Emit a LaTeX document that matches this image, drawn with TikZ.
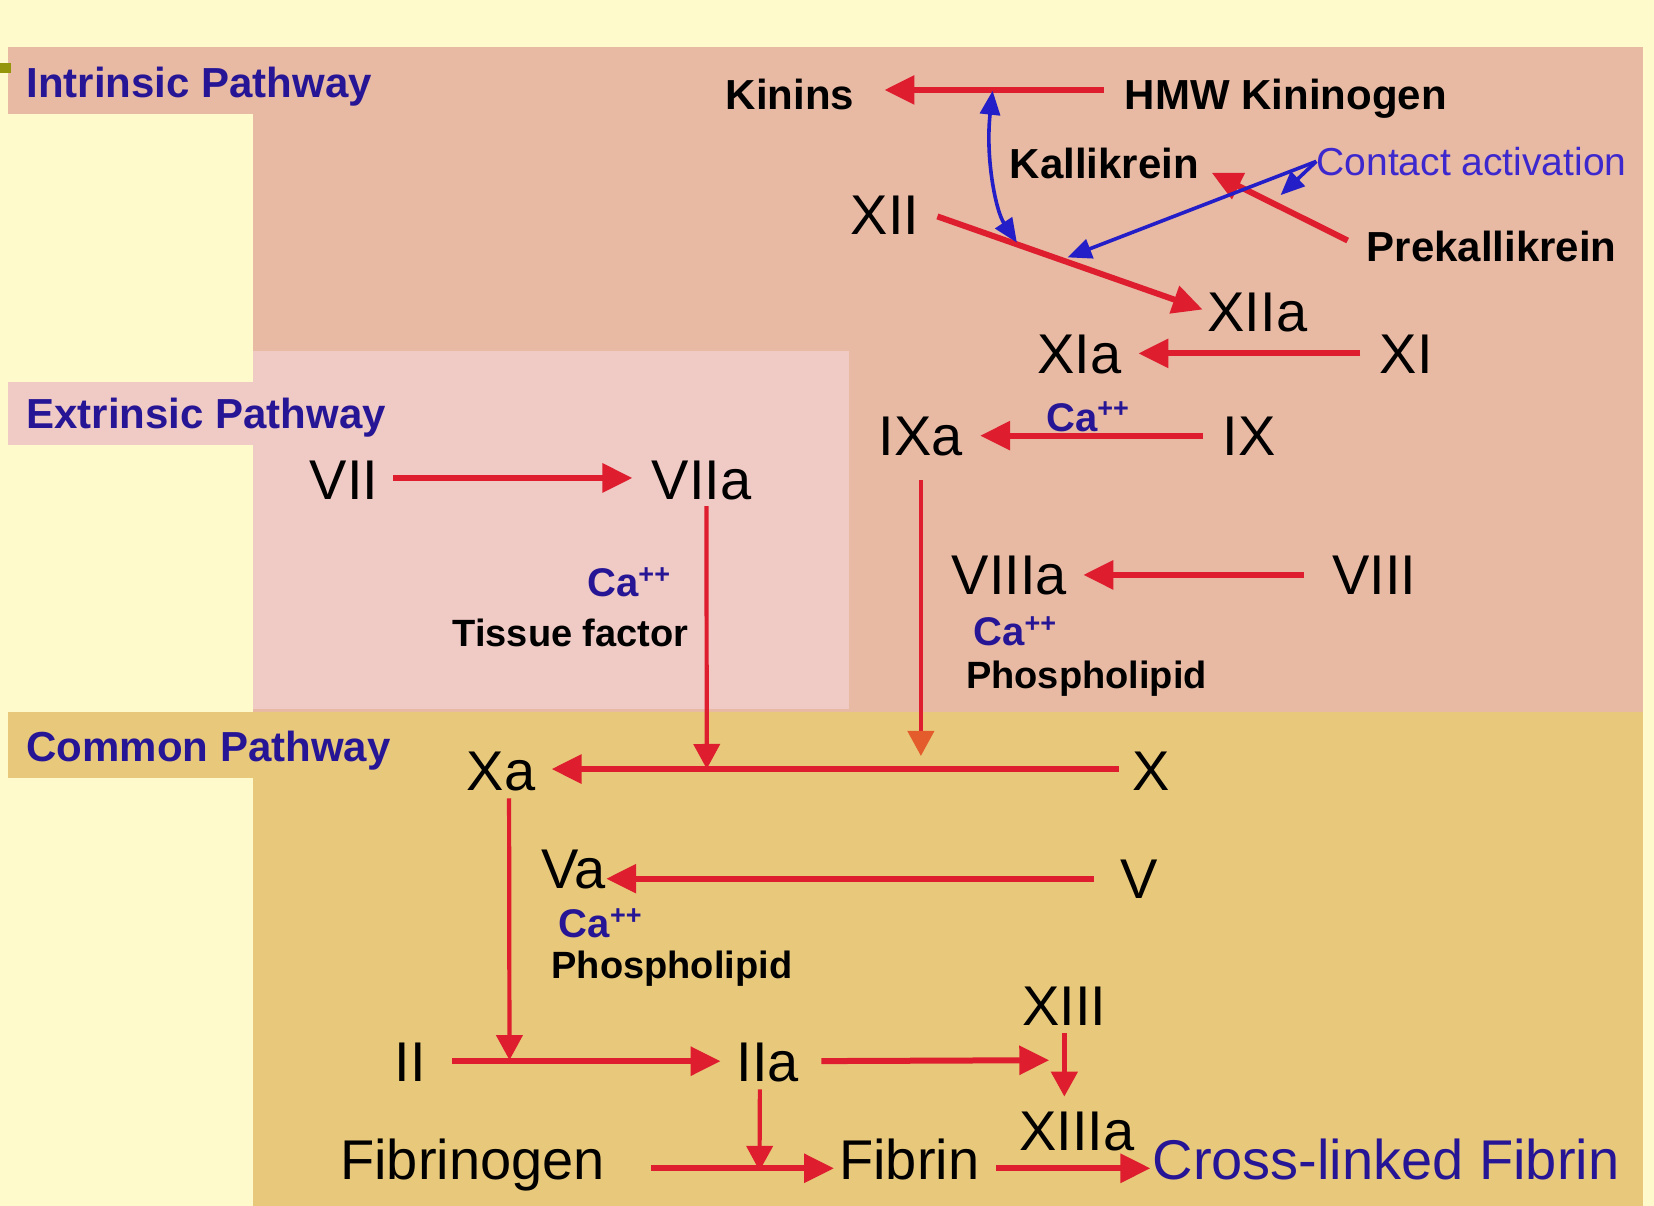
\documentclass[tikz,border=0pt]{standalone}
\usepackage{fontspec}
\setmainfont{Liberation Sans}
\usetikzlibrary{arrows.meta}
\definecolor{cream}{RGB}{255,250,204}
\definecolor{salmon}{RGB}{232,186,164}
\definecolor{pinkx}{RGB}{240,202,196}
\definecolor{tanx}{RGB}{232,201,124}
\definecolor{redA}{RGB}{222,30,46}
\definecolor{orangeA}{RGB}{228,92,44}
\definecolor{blueA}{RGB}{35,30,200}
\definecolor{contactblue}{RGB}{60,40,205}
\definecolor{navy}{RGB}{38,22,150}
\definecolor{olivex}{RGB}{150,150,10}
\newcommand{\CaPP}{Ca\raisebox{0.33em}{\fontsize{27}{27}\selectfont ++}}
\begin{document}
\begin{tikzpicture}[x=1.0548pt,y=-1.0548pt,
  fac/.style={font=\fontsize{56}{60}\selectfont, inner sep=0pt, text height=40pt, text depth=0pt},
  bld/.style={font=\fontsize{42}{46}\selectfont\bfseries, inner sep=0pt, text height=30pt, text depth=0pt},
  pw/.style={bld, text=navy, anchor=west},
  sml/.style={font=\fontsize{38}{40}\selectfont\bfseries, inner sep=0pt, text height=27pt, text depth=0pt},
  cal/.style={font=\fontsize{40}{42}\selectfont\bfseries, text=navy, inner sep=0pt, text height=29pt, text depth=0pt},
  rarr/.style={draw=redA, line width=6pt, -{Triangle[length=30pt,width=28pt]}},
  thinr/.style={draw=redA, line width=4.2pt, -{Triangle[length=25pt,width=26pt]}},
  barr/.style={draw=blueA, line width=3.6pt, -{Triangle[length=24pt,width=20pt]}},
]
\useasboundingbox (0,0) rectangle (1568,1143);
% backgrounds
\fill[cream] (0,0) rectangle (1568,1143);
\fill[salmon] (8,45) rectangle (1558,675);
\fill[cream] (8,108) rectangle (240,362);
\fill[pinkx] (240,333) rectangle (805,672);
\fill[pinkx] (8,362) rectangle (240,422);
\fill[cream] (8,422) rectangle (240,675);
\fill[tanx] (8,675) rectangle (1558,1143);
\fill[cream] (8,738) rectangle (240,1143);
\fill[olivex] (0,60) rectangle (10,69);

% pathway labels
\node[pw] (intr) at (25,78) {Intrinsic Pathway};
\node[pw] (extr) at (25,392) {Extrinsic Pathway};
\node[pw] (comm) at (25,708) {Common Pathway};

% intrinsic nodes
\node[bld] (kinins) at (749,90) {Kinins};
\node[bld] (hmw) at (1219,90) {HMW Kininogen};
\node[bld] (kall) at (1047,155) {Kallikrein};
\node[font=\fontsize{39}{41}\selectfont, text=contactblue, inner sep=0pt, text height=28pt, text depth=0pt] (contact) at (1395,153) {Contact activation};
\node[bld] (prek) at (1414,234) {Prekallikrein};
\node[fac] (xii) at (839,203) {XII};
\node[fac] (xiia) at (1192,295) {XIIa};
\node[fac] (xia) at (1023,335) {XIa};
\node[fac] (xi) at (1333,335) {XI};
\node[fac] (ixa) at (873,413) {IXa};
\node[fac] (ix) at (1184,413) {IX};
\node[cal] (ca1) at (1031,395) {\CaPP};
\node[fac] (viiia) at (957,545) {VIIIa};
\node[fac] (viii) at (1303,545) {VIII};
\node[cal] (ca3) at (962,598) {\CaPP};
\node[sml] (phos1) at (1030,640) {Phospholipid};

% extrinsic nodes
\node[fac] (vii) at (326,455) {VII};
\node[fac] (viia) at (665,455) {VIIa};
\node[cal] (ca2) at (596,552) {\CaPP};
\node[sml] (tissue) at (541,600) {Tissue factor};

% common nodes
\node[fac] (xa) at (475,730) {Xa};
\node[fac] (x) at (1091,730) {X};
\node[fac] (va) at (544,823) {Va};
\node[fac] (v) at (1080,833) {V};
\node[cal] (ca4) at (569,875) {\CaPP};
\node[sml] (phos2) at (637,915) {Phospholipid};
\node[fac] (xiii) at (1009,953) {XIII};
\node[fac] (ii) at (389,1006) {II};
\node[fac] (iia) at (728,1006) {IIa};
\node[fac] (xiiia) at (1021,1072) {XIIIa};
\node[fac] (fibrinogen) at (448,1099) {Fibrinogen};
\node[fac] (fibrin) at (862,1099) {Fibrin};
\node[fac, text=navy] (clf) at (1314,1099) {Cross-linked Fibrin};

% junction coordinates on connectors
\coordinate (kk1) at (941,86);
\coordinate (kk2) at (964,230);
\coordinate (kk3) at (1012,244);
\coordinate (kk4) at (1214,185);
\coordinate (jx) at (873,729);
\coordinate (jv) at (670,729);
\coordinate (jii) at (483,1005);
\coordinate (jxiii) at (1008,1005);
\coordinate (jf) at (720,1110);

% connectors
\draw[rarr, shorten <=21pt, shorten >=30pt] ([yshift=5pt]hmw.west) -- ([yshift=5pt]kinins.east);
\draw[rarr, shorten <=19pt, shorten >=5pt] ([yshift=4pt]xii.east) -- (xiia.west);
\draw[rarr, shorten <=21pt, shorten >=14pt] ([yshift=-3pt]prek.west) -- ([yshift=-3pt]kall.east);
\draw[barr, {Triangle[length=24pt,width=20pt]}-{Triangle[length=24pt,width=20pt]}] (kk1) .. controls (934,150) and (944,200) .. (kk2);
\draw[barr] (contact.west) -- (kk3);
\draw[barr] (contact.west) -- (kk4);
\draw[rarr, shorten <=19pt, shorten >=17pt] (xi.west) -- (xia.east);
\draw[rarr, shorten <=19pt, shorten >=17pt] (ix.west) -- (ixa.east);
\draw[draw=redA, line width=4.2pt, -{Triangle[length=25pt,width=26pt,color=orangeA]}, shorten <=24pt, shorten >=13pt] (ixa.south) -- (jx);
\draw[rarr, shorten <=28pt, shorten >=16pt] (viii.west) -- (viiia.east);
\draw[rarr, shorten <=15pt, shorten >=19pt] ([yshift=2pt]vii.east) -- ([yshift=2pt]viia.west);
\draw[thinr, shorten <=6pt] ([xshift=5pt]viia.south) -- (jv);
\draw[rarr, shorten <=13pt, shorten >=16pt] ([yshift=1pt]x.west) -- ([yshift=1pt]xa.east);
\draw[thinr, shorten <=8pt] ([xshift=8pt]xa.south) -- (jii);
\draw[rarr, shorten <=26pt] (v.west) -- (v.west -| va.east);
\draw[rarr, shorten <=26pt, shorten >=16pt] (ii.east) -- (iia.west);
\draw[rarr, shorten <=22pt, shorten >=14pt] (iia.east) -- (jxiii);
\draw[thinr, line width=5pt, shorten <=8pt, shorten >=14pt] (xiii.south) -- (xiii.south |- xiiia.north);
\draw[thinr, shorten <=8pt] ([xshift=-8pt]iia.south) -- (jf);
\draw[rarr, shorten <=46pt, shorten >=5pt] ([yshift=-9pt]fibrinogen.east) -- ([yshift=-9pt]fibrin.west);
\draw[rarr, shorten <=16pt, shorten >=2pt] ([yshift=-9pt]fibrin.east) -- ([yshift=-9pt]clf.west);
\end{tikzpicture}
\end{document}
